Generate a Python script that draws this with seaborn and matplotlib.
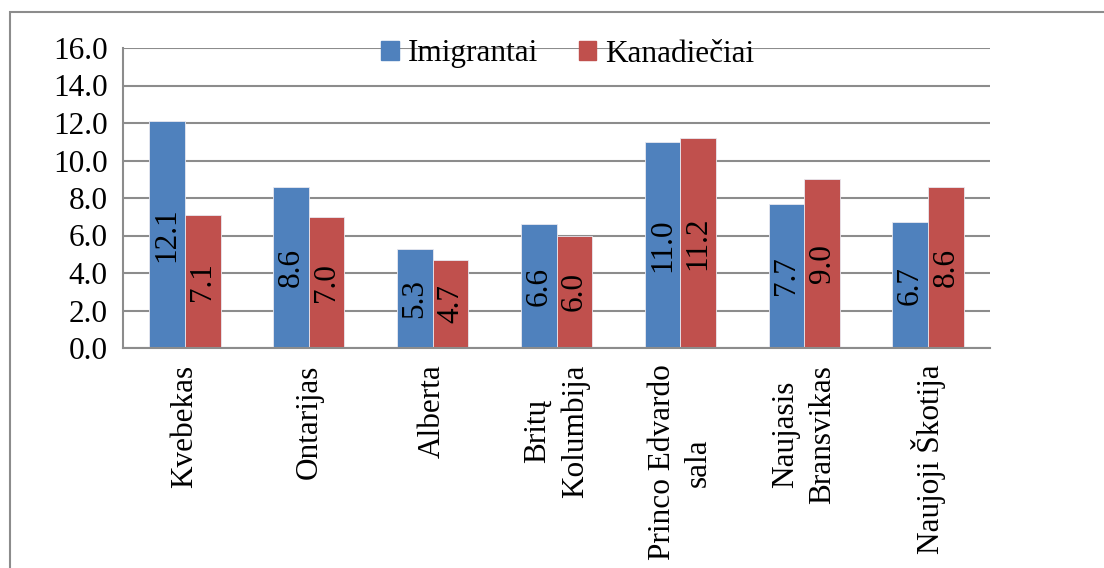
import matplotlib
matplotlib.use("Agg")
import matplotlib.pyplot as plt
import matplotlib.patches as mpatches
import seaborn as sns
import pandas as pd
import numpy as np

# data
provinces = ["Kvebekas", "Ontarijas", "Alberta", "Britų\nKolumbija",
             "Princo Edvardo\nsala", "Naujasis\nBransvikas", "Naujoji Škotija"]
imigrantai = [12.1, 8.6, 5.3, 6.6, 11.0, 7.7, 6.7]
kanadieciai = [7.1, 7.0, 4.7, 6.0, 11.2, 9.0, 8.6]
series_names = ["Imigrantai", "Kanadiečiai"]
yticks = np.arange(0, 16.1, 2)

df = pd.DataFrame({
    "provincija": provinces * 2,
    "reiksme": imigrantai + kanadieciai,
    "grupe": [series_names[0]] * len(provinces) + [series_names[1]] * len(provinces),
})

sns.set_style("white")
plt.rcParams["font.family"] = ["Liberation Serif", "DejaVu Serif"]
plt.rcParams["text.color"] = "black"
plt.rcParams["xtick.color"] = "black"
plt.rcParams["ytick.color"] = "black"

FS = 22.5

fig = plt.figure(figsize=(11.04, 5.68), dpi=100)
ax = fig.add_axes([123 / 1104, 1 - 348 / 568, (990 - 123) / 1104, 300 / 568])

colors = ["#4F81BD", "#C0504D"]
sns.barplot(data=df, x="provincija", y="reiksme", hue="grupe", order=provinces,
            hue_order=series_names, palette=colors, saturation=1, width=0.575, ax=ax,
            edgecolor="#E8E8F0", linewidth=0.6, legend=False)

for cont in ax.containers:
    ax.bar_label(cont, fmt="%.1f", label_type="center", rotation=90, fontsize=FS,
                 color="black")

ax.set_ylim(0, 16)
ax.set_xlim(-0.5, len(provinces) - 0.5)
ax.set_yticks(yticks)
ax.set_yticklabels([f"{v:.1f}" for v in yticks], fontsize=FS)
ax.yaxis.grid(True, color="#8C8C8C", linewidth=1.5)
ax.set_axisbelow(True)
ax.set_xlabel("")
ax.set_ylabel("")

# category labels at centres, tick marks at boundaries (Excel style)
ax.set_xticks(np.arange(len(provinces)))
ax.set_xticklabels(provinces, rotation=90, fontsize=FS, ha="center", va="top",
                   multialignment="center", linespacing=1.35)
ax.tick_params(axis="x", which="major", length=0, pad=12)
ax.set_xticks(np.arange(-0.5, len(provinces)), minor=True)
ax.tick_params(axis="x", which="minor", length=8, width=1.5, color="#8C8C8C", direction="out")
ax.tick_params(axis="y", length=8, width=1.5, color="#8C8C8C", labelcolor="black",
               direction="out", pad=3)

for side in ["top", "right"]:
    ax.spines[side].set_visible(False)
for side in ["left", "bottom"]:
    ax.spines[side].set_color("#8C8C8C")
    ax.spines[side].set_linewidth(1.5)

handles = [mpatches.Patch(color=c) for c in colors]
fig.legend(handles, series_names, loc="center", bbox_to_anchor=(568 / 1104, 1 - 54 / 568),
           ncol=2, frameon=False, fontsize=FS, handlelength=0.55, handleheight=0.55,
           handletextpad=0.3, columnspacing=1.3)

# outer chart frame (continues past right and bottom edge)
frame = mpatches.Rectangle((10 / 1104, -0.1), 1.2, 1 - 12 / 568 + 0.1,
                           transform=fig.transFigure, fill=False,
                           edgecolor="#8C8C8C", linewidth=1.5)
fig.patches.append(frame)

fig.savefig("out.png", dpi=100)
